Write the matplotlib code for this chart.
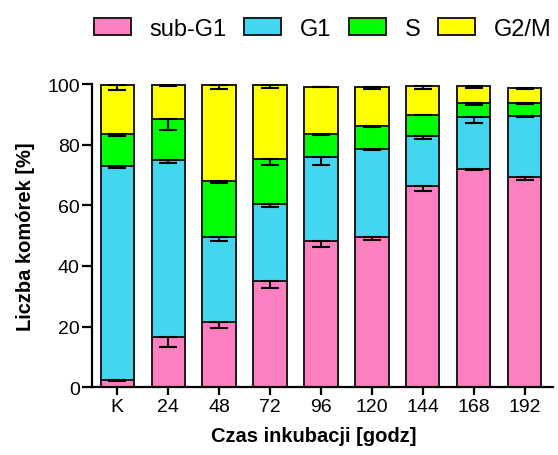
import numpy as np
import matplotlib
matplotlib.use("Agg")
import matplotlib.pyplot as plt

PINK = "#FF80C0"
CYAN = "#44D6EE"
GREEN = "#00FF00"
YELLOW = "#FFFF00"
EDGE = "#1a1a1a"

plt.rcParams["font.family"] = ["Liberation Sans", "DejaVu Sans"]

times = ["K", "24", "48", "72", "96", "120", "144", "168", "192"]
phases = ["sub-G1", "G1", "S", "G2/M"]

# segment heights [%]
sub_g1 = [2.5, 16.7, 21.4, 34.9, 48.1, 49.5, 66.5, 71.9, 69.3]
g1 = [70.4, 58.1, 28.3, 25.6, 27.9, 29.1, 16.5, 17.1, 20.1]
s_phase = [10.6, 13.8, 18.4, 14.8, 7.5, 7.4, 6.9, 4.6, 4.2]
g2m = [16.3, 11.1, 31.7, 24.5, 15.6, 12.9, 9.3, 5.6, 5.1]

# SD (drawn downward from top of each segment)
sub_g1_err = [0.3, 3.3, 2.0, 2.0, 1.8, 0.9, 1.8, 0.4, 0.9]
g1_err = [0.75, 0.8, 1.4, 1.0, 2.6, 0.3, 1.1, 1.8, 0.3]
s_err = [0.7, 3.8, 0.8, 2.1, 0.3, 0.3, 0.1, 0.4, 0.2]
g2m_err = [1.6, 0.2, 1.4, 1.1, 0.1, 0.4, 0.8, 0.4, 0.3]

series = [sub_g1, g1, s_phase, g2m]
errors = [sub_g1_err, g1_err, s_err, g2m_err]
colors = [PINK, CYAN, GREEN, YELLOW]

fig = plt.figure(figsize=(5.58, 4.56), dpi=100)
ax = fig.add_axes([0.1643, 0.1485, 0.827, 0.665])

x = np.arange(len(times))
bottom = np.zeros(len(times))
handles = []
for vals, errs, col, name in zip(series, errors, colors, phases):
    vals = np.array(vals)
    h = ax.bar(x, vals, width=0.655, bottom=bottom, color=col, edgecolor=EDGE,
               linewidth=1.4, label=name, zorder=2)
    handles.append(h)
    top = bottom + vals
    # GraphPad style: SD bar pointing down from the top of each segment
    ax.errorbar(x, top, yerr=[np.array(errs), np.zeros(len(errs))], fmt="none",
                ecolor="black", elinewidth=1.5, capsize=6.3, capthick=1.5, zorder=3)
    bottom = top

ax.set_xlim(-0.503, 8.56)
ax.set_ylim(0, 100)
ax.set_xticks(x)
ax.set_xticklabels(times)
ax.set_yticks([0, 20, 40, 60, 80, 100])
ax.spines["top"].set_visible(False)
ax.spines["right"].set_visible(False)
for sp in ("left", "bottom"):
    ax.spines[sp].set_linewidth(1.6)
ax.tick_params(axis="both", width=1.6, labelsize=14, direction="out")
ax.tick_params(axis="y", length=7.5, pad=1)
ax.tick_params(axis="x", length=5.5, pad=2)

ax.set_xlabel("Czas inkubacji [godz]", fontsize=14.5, fontweight="bold")
ax.xaxis.set_label_coords(0.482, -0.128)
ax.set_ylabel("Liczba komórek [%]", fontsize=14.5, fontweight="bold", labelpad=9)

fig.legend(handles=handles, labels=phases, loc="center left", bbox_to_anchor=(0.168, 0.935),
           ncol=4, frameon=False, fontsize=17, handlelength=1.57, handleheight=0.72,
           handletextpad=0.8, columnspacing=0.73, borderpad=0, borderaxespad=0)

fig.savefig("out.png", dpi=100)
